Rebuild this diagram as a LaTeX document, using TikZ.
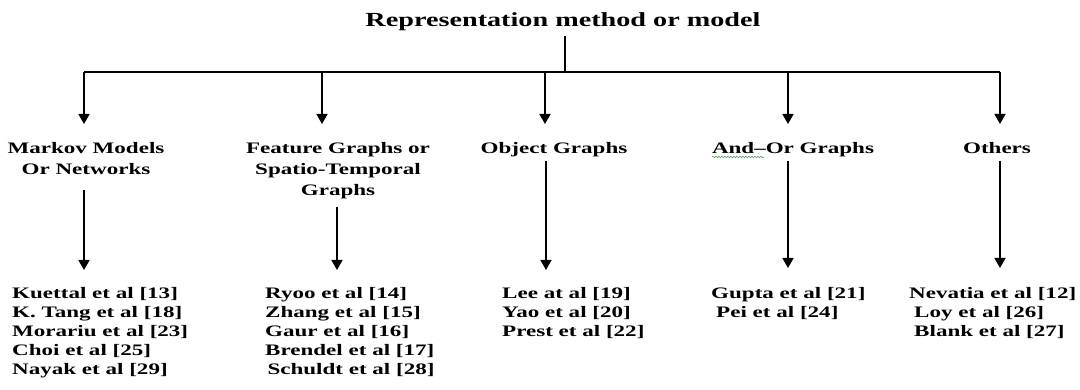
\documentclass[tikz,border=0pt]{standalone}
\usepackage{fontspec}
\setmainfont{Liberation Serif}
\usepackage{graphicx}
\usetikzlibrary{arrows.meta,decorations.pathmorphing}
\newcommand{\sxl}[1]{\scalebox{1.44}[1]{#1}}
\newcommand{\sxt}[1]{\scalebox{1.41}[1]{#1}}
\definecolor{spellgreen}{RGB}{90,160,90}
\begin{document}
\begin{tikzpicture}[x=1pt,y=-1pt,
  conn/.style={line width=1.4pt, draw=black},
  arr/.style={conn, -{Triangle[width=11pt,length=10pt]}},
  titlebox/.style={inner sep=0pt, anchor=base, font=\fontsize{20}{24}\selectfont\bfseries},
  catbox/.style={inner sep=0pt, anchor=base, font=\fontsize{16}{21}\selectfont\bfseries},
  listbox/.style={inner sep=0pt, anchor=base west, font=\fontsize{16}{19}\selectfont\bfseries},
  wavy/.style={draw=spellgreen, line width=0.6pt, decorate, decoration={snake, segment length=3pt, amplitude=0.8pt}}]
\useasboundingbox (0,0) rectangle (1080,390);
\fill[white] (0,0) rectangle (1080,390);

% title
\node[titlebox] (title) at (563,26.6) {\sxt{Representation method or model}};

% categories
\node[catbox] (c1) at (86,153.5) {\sxl{\begin{tabular}[t]{@{}c@{}}Markov Models\\Or Networks\end{tabular}}};
\node[catbox] (c2) at (338,153.5) {\sxl{\begin{tabular}[t]{@{}c@{}}Feature Graphs or\\Spatio-Temporal\\Graphs\end{tabular}}};
\node[catbox] (c3) at (554,153.5) {\sxl{Object Graphs}};
\node[catbox] (c4) at (793,153.5) {\sxl{And--Or Graphs}};
\node[catbox] (c5) at (997,153.5) {\sxl{Others}};

% spell-check underline under "And-"
\coordinate (w0) at (712,157);
\coordinate (w1) at (764,157);
\draw[wavy] (w0) -- (w1);

% lists
\node[listbox] (l1) at (12,298.3) {\sxl{\begin{tabular}[t]{@{}l@{}}Kuettal et al [13]\\K. Tang et al [18]\\Morariu et al [23]\\Choi et al [25]\\Nayak et al [29]\end{tabular}}};
\node[listbox] (l2) at (265,298.3) {\sxl{\begin{tabular}[t]{@{}l@{}}Ryoo et al [14]\\Zhang et al [15]\\Gaur et al [16]\\Brendel et al [17]\\\hspace{1.6pt}Schuldt et al [28]\end{tabular}}};
\node[listbox] (l3) at (502,298.3) {\sxl{\begin{tabular}[t]{@{}l@{}}Lee at al [19]\\Yao et al [20]\\Prest et al [22]\end{tabular}}};
\node[listbox] (l4) at (711,298.3) {\sxl{\begin{tabular}[t]{@{}l@{}}Gupta et al [21]\\\hspace{3.5pt}Pei et al [24]\end{tabular}}};
\node[listbox] (l5) at (909,298.3) {\sxl{\begin{tabular}[t]{@{}l@{}}Nevatia et al [12]\\\hspace{3.5pt}Loy et al [26]\\\hspace{3.5pt}Blank et al [27]\end{tabular}}};

% trunk
\coordinate (t0) at (565,36);
\coordinate (hub) at (565,72);
\coordinate (b1) at (84,72);
\coordinate (b2) at (322,72);
\coordinate (b3) at (545,72);
\coordinate (b4) at (788,72);
\coordinate (b5) at (1000,72);
\coordinate (e1) at (84,124);
\coordinate (e2) at (322,124);
\coordinate (e3) at (545,124);
\coordinate (e4) at (788,124);
\coordinate (e5) at (1000,124);
\draw[conn] (t0) -- (hub);
\draw[conn] (b1) -- (b5);
\foreach \i in {1,...,5} {\draw[arr] (b\i) -- (e\i);}

% second level
\coordinate (s1) at (84,190);
\coordinate (s2) at (337,207);
\coordinate (s3) at (546,161);
\coordinate (s4) at (788,161);
\coordinate (s5) at (1000,161);
\coordinate (f1) at (84,270);
\coordinate (f2) at (337,270);
\coordinate (f3) at (546,270);
\coordinate (f4) at (788,268);
\coordinate (f5) at (1000,268);
\foreach \i in {1,...,5} {\draw[arr] (s\i) -- (f\i);}
\end{tikzpicture}
\end{document}
